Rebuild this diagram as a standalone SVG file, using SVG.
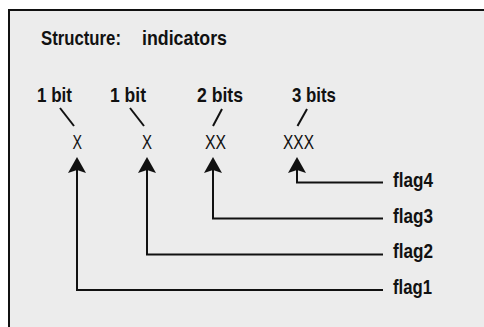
<svg xmlns="http://www.w3.org/2000/svg" xmlns:xlink="http://www.w3.org/1999/xlink" width="484" height="327" viewBox="0 0 484 327">
<style>
  .b { font-family: "Liberation Sans", Arial, sans-serif; font-weight: bold; font-size: 21px; fill: #111; }
  .r { font-family: "Liberation Sans", Arial, sans-serif; font-weight: normal; font-size: 21px; fill: #111; }
  .ln { stroke: #111; stroke-width: 2; fill: none; }
  .sl { stroke: #111; stroke-width: 2; fill: none; }
  .ah { fill: #111; }
</style>
<defs>
  <path id="ah" d="M0,0 L9,16 L0,13 L-9,16 Z"/>
</defs>
<rect x="0" y="0" width="484" height="327" fill="#ffffff"/>
<rect x="8" y="9" width="476" height="318" fill="#ececec"/>
<g id="frame">
  <line x1="8" y1="10" x2="484" y2="10" stroke="#111" stroke-width="2"/>
  <line x1="9" y1="9" x2="9" y2="327" stroke="#111" stroke-width="2"/>
</g>
<g id="title">
  <text class="b" x="41" y="45" textLength="80" lengthAdjust="spacingAndGlyphs">Structure:</text>
  <text class="b" x="142" y="45" textLength="85" lengthAdjust="spacingAndGlyphs">indicators</text>
</g>
<g id="field1">
  <text class="b" x="37" y="102" textLength="35" lengthAdjust="spacingAndGlyphs">1 bit</text>
  <line class="sl" x1="60" y1="108" x2="74" y2="126"/>
  <text class="r" x="72.5" y="148.5" textLength="9.5" lengthAdjust="spacingAndGlyphs">X</text>
</g>
<g id="field2">
  <text class="b" x="110" y="102" textLength="36" lengthAdjust="spacingAndGlyphs">1 bit</text>
  <line class="sl" x1="130" y1="108" x2="144" y2="126"/>
  <text class="r" x="142" y="148.5" textLength="10" lengthAdjust="spacingAndGlyphs">X</text>
</g>
<g id="field3">
  <text class="b" x="197" y="102" textLength="46" lengthAdjust="spacingAndGlyphs">2 bits</text>
  <line class="sl" x1="222" y1="109" x2="213" y2="126"/>
  <text class="r" x="205" y="148.5" textLength="21" lengthAdjust="spacingAndGlyphs">XX</text>
</g>
<g id="field4">
  <text class="b" x="292" y="102" textLength="44" lengthAdjust="spacingAndGlyphs">3 bits</text>
  <line class="sl" x1="307" y1="109" x2="297.5" y2="126"/>
  <text class="r" x="283" y="148.5" textLength="31" lengthAdjust="spacingAndGlyphs">XXX</text>
</g>
<g id="flag4">
  <text class="b" x="393" y="186.5" textLength="40" lengthAdjust="spacingAndGlyphs">flag4</text>
</g>
<g id="flag3">
  <text class="b" x="393" y="222.5" textLength="40" lengthAdjust="spacingAndGlyphs">flag3</text>
</g>
<g id="flag2">
  <text class="b" x="393" y="258" textLength="40" lengthAdjust="spacingAndGlyphs">flag2</text>
</g>
<g id="flag1">
  <text class="b" x="393" y="293.5" textLength="39" lengthAdjust="spacingAndGlyphs">flag1</text>
</g>
<g id="connectors">
  <path class="ln" d="M383,290 H77 V168"/>
  <use xlink:href="#ah" href="#ah" class="ah" x="77" y="157"/>
  <path class="ln" d="M383,254.5 H147 V168"/>
  <use xlink:href="#ah" href="#ah" class="ah" x="147" y="157"/>
  <path class="ln" d="M383,218.5 H213 V168"/>
  <use xlink:href="#ah" href="#ah" class="ah" x="213" y="157"/>
  <path class="ln" d="M383,182.5 H297 V168"/>
  <use xlink:href="#ah" href="#ah" class="ah" x="297" y="157"/>
</g>
</svg>
